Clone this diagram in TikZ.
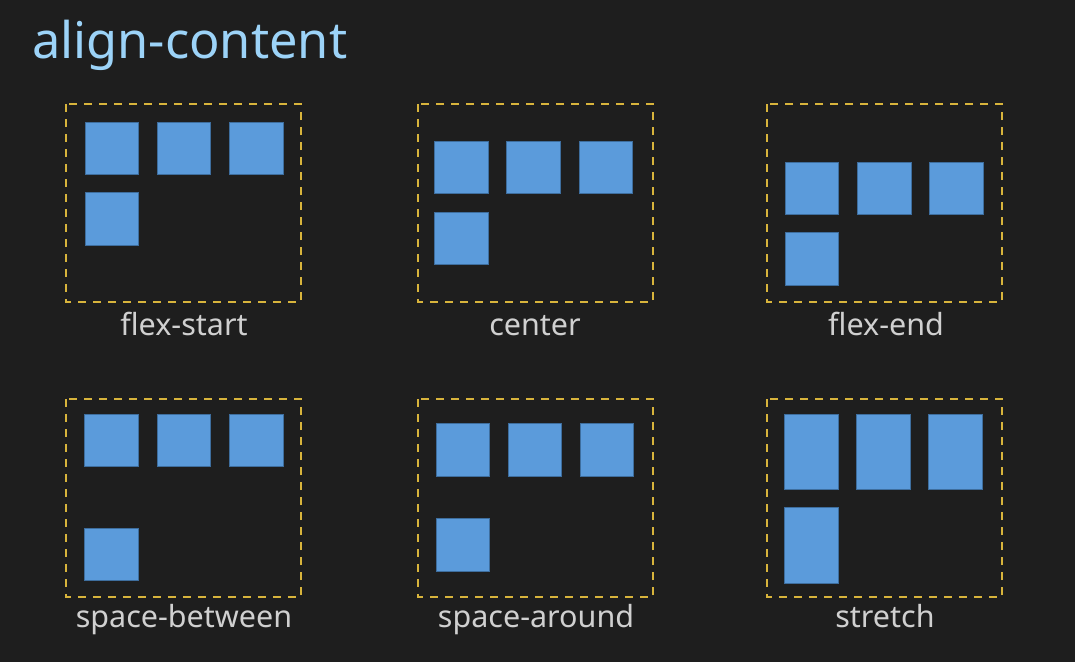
\documentclass[tikz,border=0pt]{standalone}
\usepackage{fontspec}
\setmainfont{Noto Sans}
\definecolor{canvas}{HTML}{1E1E1E}
\definecolor{titleblue}{HTML}{9CD3F8}
\definecolor{labelgray}{HTML}{D0D0D0}
\definecolor{framegold}{HTML}{D8B43C}
\definecolor{itemblue}{HTML}{5B9BDB}
\definecolor{itemedge}{HTML}{3E6E9E}
\tikzset{
  container/.style={draw=framegold, line width=1.8pt, dash pattern=on 8pt off 7pt},
  item/.style={fill=itemblue, draw=itemedge, line width=0.7pt},
  caption/.style={text=labelgray, font=\fontsize{30.5}{31}\selectfont, anchor=base, inner sep=0pt},
}
\begin{document}
\begin{tikzpicture}[x=1pt,y=-1pt]
\fill[canvas] (0,0) rectangle (1075,662);
\useasboundingbox (0,0) rectangle (1075,662);

% heading
\node[text=titleblue, font=\fontsize{50.5}{51}\selectfont, anchor=base west, inner sep=0pt] (title) at (32,58) {align-content};

% flex containers
\draw[container] (66,104) rectangle (301,302);
\draw[container] (418,104) rectangle (653,302);
\draw[container] (767,104) rectangle (1002,302);
\draw[container] (66,399) rectangle (301,597);
\draw[container] (418,399) rectangle (653,597);
\draw[container] (767,399) rectangle (1002,597);

% flex-start
\draw[item] (85,122) rectangle (138,174);
\draw[item] (157,122) rectangle (210,174);
\draw[item] (229,122) rectangle (283,174);
\draw[item] (85,192) rectangle (138,245);
% center
\draw[item] (434,141) rectangle (488,193);
\draw[item] (506,141) rectangle (560,193);
\draw[item] (579,141) rectangle (632,193);
\draw[item] (434,212) rectangle (488,264);
% flex-end
\draw[item] (785,162) rectangle (838,214);
\draw[item] (857,162) rectangle (911,214);
\draw[item] (929,162) rectangle (983,214);
\draw[item] (785,232) rectangle (838,285);
% space-between
\draw[item] (84,414) rectangle (138,466);
\draw[item] (157,414) rectangle (210,466);
\draw[item] (229,414) rectangle (283,466);
\draw[item] (84,528) rectangle (138,580);
% space-around
\draw[item] (436,423) rectangle (489,476);
\draw[item] (508,423) rectangle (561,476);
\draw[item] (580,423) rectangle (633,476);
\draw[item] (436,518) rectangle (489,571);
% stretch
\draw[item] (784,414) rectangle (838,489);
\draw[item] (856,414) rectangle (910,489);
\draw[item] (928,414) rectangle (982,489);
\draw[item] (784,507) rectangle (838,583);

% captions
\node[caption] (c1) at (184,335) {flex-start};
\node[caption] (c2) at (535,335) {center};
\node[caption] (c3) at (886,335) {flex-end};
\node[caption] (c4) at (184,627) {space-between};
\node[caption] (c5) at (536,627) {space-around};
\node[caption] (c6) at (885,627) {stretch};
\end{tikzpicture}
\end{document}
